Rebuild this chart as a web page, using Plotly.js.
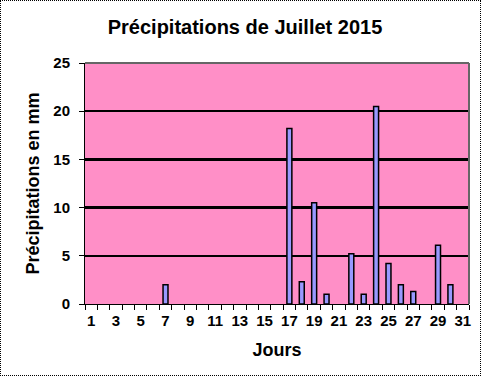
<!DOCTYPE html>
<html>
<head>
<meta charset="utf-8">
<script src="https://cdn.plot.ly/plotly-3.0.1.min.js"></script>
<style>
html,body{margin:0;padding:0;background:#fff;}
#wrap{position:relative;width:481px;height:376px;}
#chart{width:481px;height:376px;}
#frame{position:absolute;left:0;top:0;width:479px;height:374px;border:1px dotted #000;pointer-events:none;}
</style>
</head>
<body>
<div id="wrap"><div id="chart"></div><div id="frame"></div></div>
<script>
const days = [1,2,3,4,5,6,7,8,9,10,11,12,13,14,15,16,17,18,19,20,21,22,23,24,25,26,27,28,29,30,31];
const rain = [0,0,0,0,0,0,2.0,0,0,0,0,0,0,0,0,0,18.2,2.3,10.5,1.0,0,5.2,1.0,20.5,4.2,2.0,1.3,0,6.1,2.0,0];
const labelDays = [1,3,5,7,9,11,13,15,17,19,21,23,25,27,29,31];
const yTicks = [0,5,10,15,20,25];

const fontFam = '"Liberation Sans", Arial, sans-serif';

const trace = {
  type: 'bar',
  x: days,
  // days without rain draw no bar (no outline at zero)
  y: rain.map(v => v === 0 ? null : v),
  width: 0.4,
  marker: {color: '#9999FF', line: {color: '#000000', width: 1.5}},
  hoverinfo: 'x+y'
};

const layout = {
  width: 481, height: 376,
  margin: {l: 85, r: 12, t: 63, b: 72},
  paper_bgcolor: '#ffffff',
  plot_bgcolor: '#FF8FC7',
  showlegend: false,
  title: {
    text: 'Précipitations de Juillet 2015',
    font: {family: fontFam, size: 20, color: '#000', weight: 'bold'},
    x: 245/481, xref: 'container', xanchor: 'center',
    y: 1 - 27/376, yref: 'container', yanchor: 'middle'
  },
  xaxis: {
    range: [0.5, 31.5],
    tickvals: labelDays,
    ticktext: labelDays.map(String),
    ticks: '',
    showgrid: false,
    zeroline: false,
    showline: true, linecolor: '#000', linewidth: 1,
    tickfont: {family: fontFam, size: 15, color: '#000', weight: 'bold'},
    ticklabelstandoff: 3,
    minor: {tick0: 0.5, dtick: 1, ticks: 'outside', ticklen: 5, tickcolor: '#000', tickwidth: 1, showgrid: false},
    title: {text: 'Jours', font: {family: fontFam, size: 18, color: '#000', weight: 'bold'}, standoff: 15},
    fixedrange: true
  },
  yaxis: {
    range: [0, 25],
    tickvals: yTicks,
    ticks: 'outside', ticklen: 5, tickcolor: '#000',
    showgrid: true, gridcolor: '#000', gridwidth: 2.5,
    zeroline: false,
    showline: true, linecolor: '#000', linewidth: 1,
    tickfont: {family: fontFam, size: 15, color: '#000', weight: 'bold'},
    ticklabelstandoff: 6,
    title: {text: 'Précipitations en mm', font: {family: fontFam, size: 18, color: '#000', weight: 'bold'}, standoff: 9},
    fixedrange: true
  },
  shapes: [
    {type: 'line', xref: 'paper', yref: 'paper', x0: 0, x1: 1, y0: 1, y1: 1, line: {color: '#666', width: 2}},
    {type: 'line', xref: 'paper', yref: 'paper', x0: 1, x1: 1, y0: 0, y1: 1, line: {color: '#666', width: 2}}
  ]
};

Plotly.newPlot('chart', [trace], layout, {displayModeBar: false, staticPlot: true});
</script>
</body>
</html>
